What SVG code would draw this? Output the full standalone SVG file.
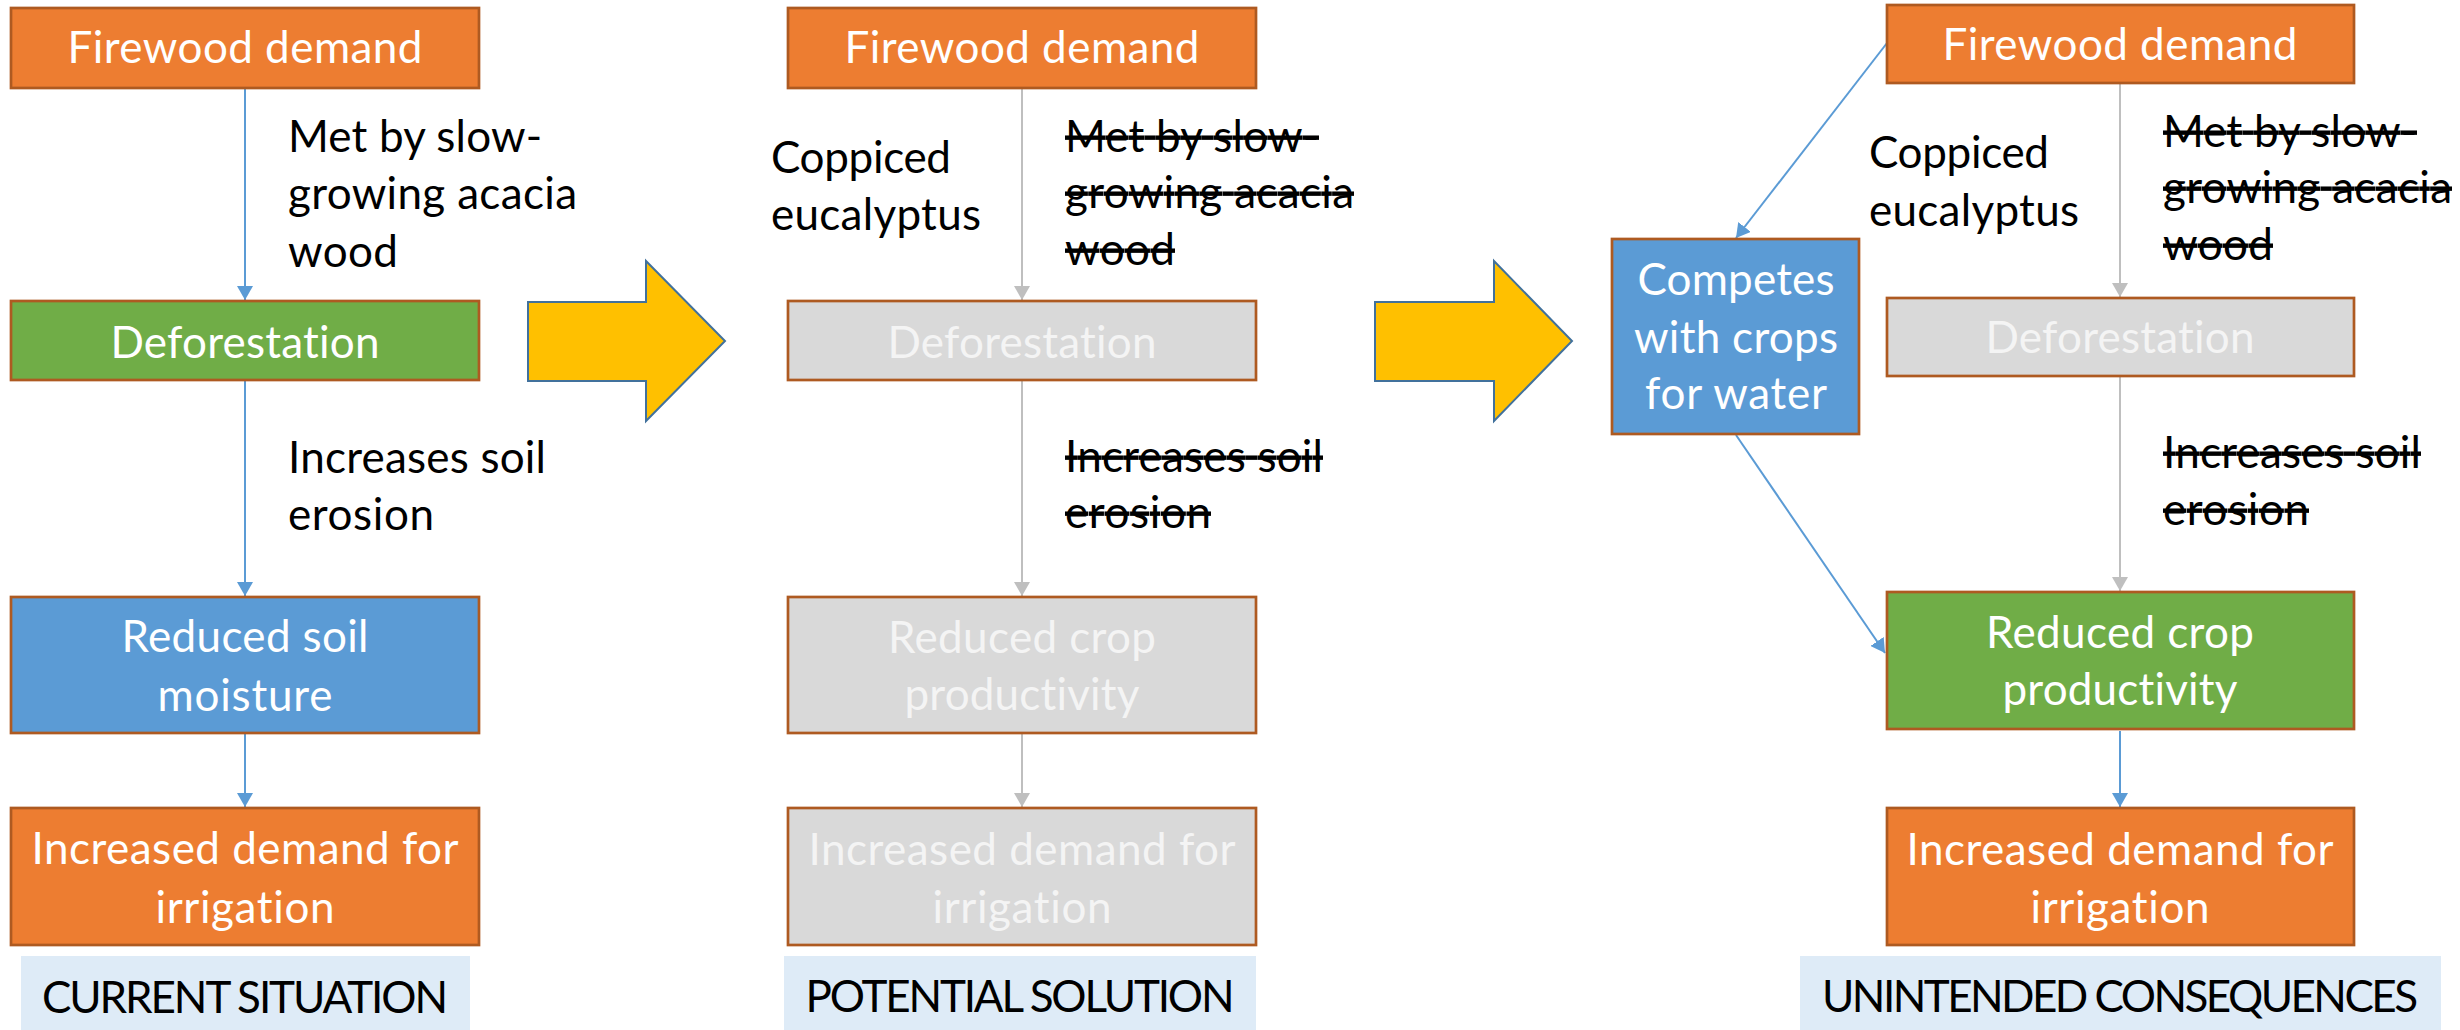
<svg xmlns="http://www.w3.org/2000/svg" width="2460" height="1030" viewBox="0 0 2460 1030">
<style>
text{font-family:Lato,"Liberation Sans",sans-serif;font-size:44px;font-variant-ligatures:none}
.w{fill:#FFFFFF;text-anchor:middle}
.g{fill:#F4F4F4;text-anchor:middle}
.k{fill:#000000}
.s{fill:#000000;text-decoration:line-through}
.c{fill:#000000;text-anchor:middle}
.box{stroke:#AE5A21;stroke-width:2.7}
.or{fill:#ED7D31}.gr{fill:#70AD47}.bl{fill:#5B9BD5}.gy{fill:#D9D9D9}
.lab{fill:#DEEBF7}
.ab{stroke:#5B9BD5;stroke-width:2;fill:none;marker-end:url(#mb)}
.ag{stroke:#BFBFBF;stroke-width:2;fill:none;marker-end:url(#mg)}
.big{fill:#FFC000;stroke:#41719C;stroke-width:2}
</style>
<defs>
<marker id="mb" markerUnits="userSpaceOnUse" markerWidth="16" markerHeight="16" refX="14" refY="8" orient="auto"><path d="M0,0 L14,8 L0,16 z" fill="#5B9BD5"/></marker>
<marker id="mg" markerUnits="userSpaceOnUse" markerWidth="16" markerHeight="16" refX="14" refY="8" orient="auto"><path d="M0,0 L14,8 L0,16 z" fill="#BFBFBF"/></marker>
</defs>
<rect width="2460" height="1030" fill="#FFFFFF"/>

<g id="connectors">
<line class="ab" x1="245" y1="88" x2="245" y2="300"/>
<line class="ab" x1="245" y1="381" x2="245" y2="596"/>
<line class="ab" x1="245" y1="734" x2="245" y2="807"/>
<line class="ag" x1="1022" y1="88" x2="1022" y2="300"/>
<line class="ag" x1="1022" y1="381" x2="1022" y2="596"/>
<line class="ag" x1="1022" y1="734" x2="1022" y2="807"/>
<line class="ag" x1="2120" y1="84" x2="2120" y2="297"/>
<line class="ag" x1="2120" y1="377" x2="2120" y2="591"/>
<line class="ab" x1="2120" y1="731" x2="2120" y2="807"/>
<line class="ab" x1="1887" y1="43" x2="1736" y2="238"/>
<line class="ab" x1="1736" y1="435" x2="1885" y2="653"/>
</g>

<g id="big-arrow-1"><polygon class="big" points="528,302 646,302 646,261 725,341 646,421 646,381 528,381"/></g>
<g id="big-arrow-2"><polygon class="big" points="1375,302 1494,302 1494,261 1572,341 1494,421 1494,381 1375,381"/></g>

<!-- Column 1 -->
<g id="c1-firewood"><rect class="box or" x="11" y="8" width="468" height="80"/><text class="w" x="245" y="63" textLength="355">Firewood demand</text></g>
<g id="c1-label1"><text class="k" x="288" y="152" textLength="254">Met by slow-</text><text class="k" x="288" y="209" textLength="289">growing acacia</text><text class="k" x="288" y="267" textLength="110">wood</text></g>
<g id="c1-defor"><rect class="box gr" x="11" y="301" width="468" height="79"/><text class="w" x="245" y="358" textLength="269">Deforestation</text></g>
<g id="c1-label2"><text class="k" x="288" y="473" textLength="258">Increases soil</text><text class="k" x="288" y="530" textLength="146">erosion</text></g>
<g id="c1-soil"><rect class="box bl" x="11" y="597" width="468" height="136"/><text class="w" x="245" y="652" textLength="247">Reduced soil</text><text class="w" x="245" y="711" textLength="175">moisture</text></g>
<g id="c1-irrig"><rect class="box or" x="11" y="808" width="468" height="137"/><text class="w" x="245" y="864" textLength="427">Increased demand for</text><text class="w" x="245" y="923" textLength="179">irrigation</text></g>
<g id="c1-title"><rect class="lab" x="21" y="956" width="449" height="74"/><text class="c" x="245" y="1013" textLength="406">CURRENT SITUATION</text></g>

<!-- Column 2 -->
<g id="c2-firewood"><rect class="box or" x="788" y="8" width="468" height="80"/><text class="w" x="1022" y="63" textLength="355">Firewood demand</text></g>
<g id="c2-coppiced"><text class="k" x="771" y="173" textLength="180">Coppiced</text><text class="k" x="771" y="230" textLength="210">eucalyptus</text></g>
<g id="c2-label1"><text class="s" x="1065" y="152" textLength="254">Met by slow-</text><text class="s" x="1065" y="208" textLength="289">growing acacia</text><text class="s" x="1065" y="265" textLength="110">wood</text></g>
<g id="c2-defor"><rect class="box gy" x="788" y="301" width="468" height="79"/><text class="g" x="1022" y="358" textLength="269">Deforestation</text></g>
<g id="c2-label2"><text class="s" x="1065" y="472" textLength="258">Increases soil</text><text class="s" x="1065" y="528" textLength="146">erosion</text></g>
<g id="c2-crop"><rect class="box gy" x="788" y="597" width="468" height="136"/><text class="g" x="1022" y="653" textLength="268">Reduced crop</text><text class="g" x="1022" y="710" textLength="235">productivity</text></g>
<g id="c2-irrig"><rect class="box gy" x="788" y="808" width="468" height="137"/><text class="g" x="1022" y="865" textLength="427">Increased demand for</text><text class="g" x="1022" y="923" textLength="179">irrigation</text></g>
<g id="c2-title"><rect class="lab" x="784" y="956" width="472" height="74"/><text class="c" x="1020" y="1012" textLength="429">POTENTIAL SOLUTION</text></g>

<!-- Column 3 -->
<g id="c3-firewood"><rect class="box or" x="1887" y="5" width="467" height="78"/><text class="w" x="2120" y="60" textLength="355">Firewood demand</text></g>
<g id="c3-competes"><rect class="box bl" x="1612" y="239" width="247" height="195"/><text class="w" x="1736" y="295" textLength="197">Competes</text><text class="w" x="1736" y="353" textLength="204">with crops</text><text class="w" x="1736" y="409" textLength="182">for water</text></g>
<g id="c3-coppiced"><text class="k" x="1869" y="168" textLength="180">Coppiced</text><text class="k" x="1869" y="226" textLength="210">eucalyptus</text></g>
<g id="c3-label1"><text class="s" x="2163" y="147" textLength="254">Met by slow-</text><text class="s" x="2163" y="203" textLength="289">growing acacia</text><text class="s" x="2163" y="260" textLength="110">wood</text></g>
<g id="c3-defor"><rect class="box gy" x="1887" y="298" width="467" height="78"/><text class="g" x="2120" y="353" textLength="269">Deforestation</text></g>
<g id="c3-label2"><text class="s" x="2163" y="468" textLength="258">Increases soil</text><text class="s" x="2163" y="525" textLength="146">erosion</text></g>
<g id="c3-crop"><rect class="box gr" x="1887" y="592" width="467" height="137"/><text class="w" x="2120" y="648" textLength="268">Reduced crop</text><text class="w" x="2120" y="705" textLength="235">productivity</text></g>
<g id="c3-irrig"><rect class="box or" x="1887" y="808" width="467" height="137"/><text class="w" x="2120" y="865" textLength="427">Increased demand for</text><text class="w" x="2120" y="923" textLength="179">irrigation</text></g>
<g id="c3-title"><rect class="lab" x="1800" y="956" width="641" height="74"/><text class="c" x="2120" y="1012" textLength="596">UNINTENDED CONSEQUENCES</text></g>
</svg>
